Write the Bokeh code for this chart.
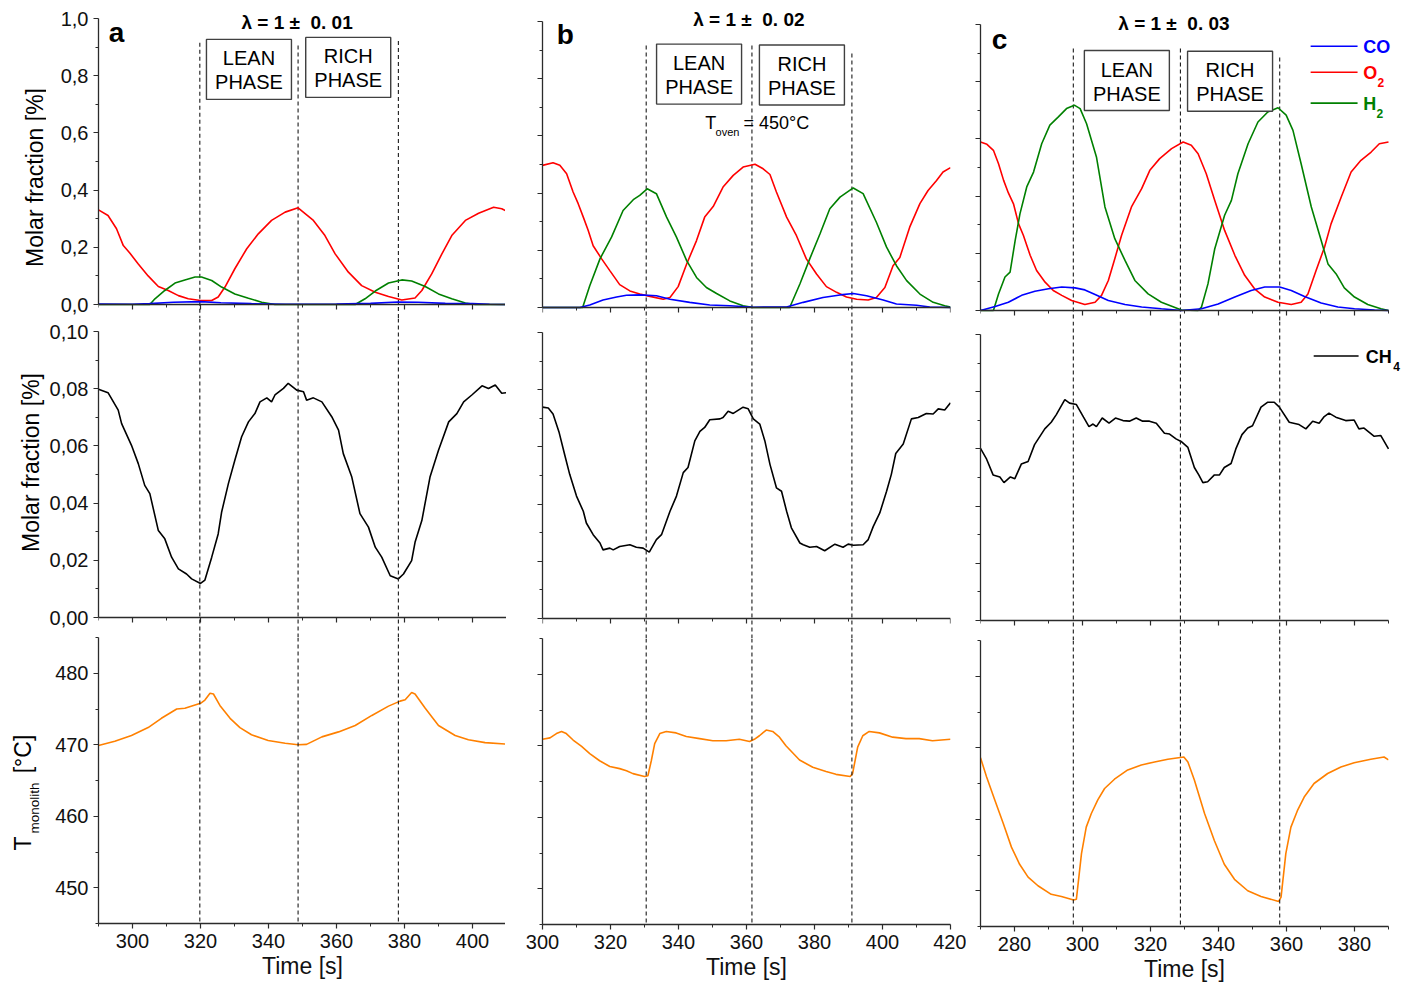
import math
from bokeh.plotting import figure
from bokeh.models import Range1d, FixedTicker, Label, Span, CustomJSTickFormatter
from bokeh.layouts import row, column
from bokeh.embed import file_html
from bokeh.resources import INLINE

# ---------------- data ----------------
# panel a  (lambda = 1 +/- 0.01)
A_O2_T = [290.0, 292.8, 295.3, 297.3, 299.2, 301.7, 304.6, 307.6, 310.5, 313.5, 316.4, 320.0, 323.3, 325.2, 327.2,
          330.1, 333.6, 337.0, 340.9, 344.9, 348.7, 353.2, 356.6, 359.6, 363.5, 367.4, 371.4, 375.3, 379.2, 383.1,
          385.1, 388.0, 391.0, 393.9, 397.9, 401.8, 406.2, 408.6, 410.0]
A_O2 = [0.331, 0.311, 0.265, 0.206, 0.180, 0.142, 0.100, 0.063, 0.049, 0.031, 0.020, 0.014, 0.014, 0.026, 0.061,
        0.125, 0.195, 0.247, 0.294, 0.323, 0.338, 0.294, 0.241, 0.177, 0.113, 0.066, 0.043, 0.028, 0.016, 0.023,
        0.049, 0.107, 0.177, 0.241, 0.294, 0.319, 0.340, 0.335, 0.326]
A_H2_T = [290.0, 305.1, 306.6, 309.5, 312.5, 315.4, 318.4, 320.3, 323.3, 326.2, 330.1, 334.1, 338.0, 341.9, 365.5,
          368.4, 371.4, 375.3, 379.2, 382.1, 386.1, 390.0, 393.9, 397.9, 400.8, 410.0]
A_H2 = [0.0, 0.0, 0.020, 0.049, 0.075, 0.086, 0.096, 0.096, 0.084, 0.061, 0.037, 0.022, 0.008, 0.0, 0.0,
        0.020, 0.047, 0.075, 0.086, 0.082, 0.063, 0.037, 0.020, 0.005, 0.0, 0.0]
A_CO_T = [290, 300, 305, 312, 320, 326, 335, 345, 360, 370, 378, 384, 392, 400, 405, 410]
A_CO = [0.002, 0.001, 0.003, 0.008, 0.010, 0.006, 0.003, 0.001, 0.002, 0.004, 0.009, 0.008, 0.004, 0.003, 0.001, 0.0]
A_CH4_T = [290.0, 292.8, 295.8, 296.8, 299.7, 301.7, 303.6, 305.1, 307.6, 309.5, 311.5, 313.5, 315.9, 317.4, 320.0,
           321.3, 323.3, 325.2, 326.2, 328.2, 330.1, 332.1, 334.1, 336.0, 337.5, 339.5, 340.9, 341.9, 344.4, 345.8,
           348.3, 350.3, 351.2, 353.2, 355.7, 358.6, 360.6, 362.0, 364.5, 366.9, 369.4, 371.4, 373.3, 375.8, 378.2,
           379.7, 382.1, 383.1, 385.1, 387.5, 390.0, 393.0, 395.4, 397.4, 399.8, 402.8, 404.7, 406.7, 408.6, 410.0]
A_CH4 = [0.0798, 0.0786, 0.0725, 0.0678, 0.0602, 0.0538, 0.0462, 0.0433, 0.0304, 0.0275, 0.0211, 0.0170, 0.0152,
         0.0135, 0.0119, 0.0131, 0.0211, 0.0292, 0.0368, 0.0468, 0.0550, 0.0632, 0.0684, 0.0713, 0.0754, 0.0768,
         0.0754, 0.0778, 0.0801, 0.0819, 0.0795, 0.0789, 0.0760, 0.0768, 0.0754, 0.0702, 0.0655, 0.0573, 0.0491,
         0.0363, 0.0316, 0.0246, 0.0211, 0.0146, 0.0135, 0.0152, 0.0199, 0.0263, 0.0339, 0.0491, 0.0585, 0.0684,
         0.0713, 0.0754, 0.0778, 0.0810, 0.0801, 0.0813, 0.0784, 0.0786]
A_T_T = [290.0, 294.8, 299.7, 304.6, 308.5, 313.0, 315.4, 320.0, 321.3, 322.8, 323.8, 325.7, 328.7, 331.6, 335.0,
         339.9, 344.9, 348.7, 351.2, 355.7, 360.6, 365.5, 370.4, 375.3, 378.7, 380.2, 382.1, 383.1, 386.1, 390.0,
         394.9, 398.8, 403.7, 410.0]
A_T = [469.9, 470.5, 471.3, 472.4, 473.7, 475.0, 475.1, 475.8, 476.25, 477.2, 477.1, 475.5, 473.7, 472.4, 471.4,
       470.6, 470.2, 470.0, 470.05, 471.1, 471.8, 472.7, 474.1, 475.4, 476.1, 476.3, 477.3, 477.1, 475.1, 472.7,
       471.3, 470.7, 470.3, 470.1]
A_SWITCH = [319.8, 348.7, 378.2]

# panel b  (lambda = 1 +/- 0.02)
B_O2_T = [300.0, 303.1, 305.1, 307.1, 309.0, 310.5, 312.0, 313.4, 314.9, 317.4, 319.8, 322.7, 325.7, 328.6, 331.6,
          335.5, 337.5, 339.9, 342.4, 345.3, 347.7, 350.2, 353.1, 356.1, 359.0, 362.5, 364.9, 366.9, 368.8, 371.8,
          374.7, 377.6, 380.6, 383.5, 386.5, 389.4, 392.4, 395.8, 398.2, 400.7, 403.1, 405.1, 408.0, 411.0, 413.4,
          415.9, 417.8, 420.0]
B_O2 = [0.497, 0.506, 0.497, 0.468, 0.404, 0.363, 0.316, 0.271, 0.216, 0.170, 0.129, 0.080, 0.058, 0.047, 0.039,
        0.029, 0.035, 0.073, 0.152, 0.234, 0.316, 0.353, 0.421, 0.462, 0.491, 0.501, 0.485, 0.465, 0.404, 0.316,
        0.251, 0.170, 0.117, 0.073, 0.053, 0.037, 0.029, 0.026, 0.035, 0.070, 0.146, 0.175, 0.281, 0.363, 0.409,
        0.444, 0.474, 0.489]
B_H2_T = [300.0, 311.8, 313.9, 316.9, 320.3, 323.7, 326.7, 328.6, 330.8, 333.5, 336.5, 339.4, 342.4, 345.3, 348.2,
          351.2, 355.1, 359.0, 362.0, 372.7, 375.7, 378.6, 381.6, 384.5, 387.5, 391.4, 394.3, 398.2, 401.2, 404.1,
          407.1, 411.0, 414.9, 418.3, 420.0]
B_H2 = [0.0, 0.0, 0.076, 0.170, 0.246, 0.339, 0.377, 0.392, 0.415, 0.398, 0.316, 0.246, 0.164, 0.105, 0.070,
        0.049, 0.023, 0.006, 0.0, 0.0, 0.082, 0.170, 0.257, 0.345, 0.386, 0.418, 0.398, 0.298, 0.211, 0.146,
        0.094, 0.047, 0.018, 0.006, 0.002]
B_CO_T = [300.0, 311.0, 313.9, 317.8, 321.8, 324.7, 328.6, 333.5, 337.5, 343.3, 349.2, 355.1, 362.0, 371.8, 376.7,
          382.5, 387.5, 391.4, 395.3, 400.2, 404.1, 410.0, 413.9, 420.0]
B_CO = [0.0, 0.0, 0.009, 0.026, 0.037, 0.043, 0.044, 0.041, 0.029, 0.018, 0.009, 0.006, 0.001, 0.002, 0.018,
        0.035, 0.044, 0.049, 0.041, 0.026, 0.012, 0.008, 0.002, 0.0]
B_CH4_T = [300.0, 301.7, 303.1, 304.9, 306.6, 308.0, 310.0, 312.0, 312.9, 314.9, 316.9, 317.8, 319.8, 320.8, 322.7,
           325.7, 327.6, 329.6, 331.4, 333.5, 335.0, 337.5, 339.4, 341.4, 342.8, 344.8, 346.3, 347.7, 349.2, 352.2,
           353.1, 354.6, 356.1, 359.0, 360.5, 362.0, 363.9, 365.4, 366.9, 368.8, 370.3, 371.8, 373.2, 375.7, 376.7,
           378.6, 380.6, 383.0, 386.0, 388.4, 389.9, 391.4, 394.3, 395.8, 397.3, 399.2, 401.2, 402.6, 403.9, 406.1,
           408.5, 410.5, 412.9, 414.9, 416.4, 418.3, 420.0]
B_CH4 = [0.0739, 0.0736, 0.0715, 0.0650, 0.0569, 0.0504, 0.0428, 0.0375, 0.0334, 0.0293, 0.0264, 0.0240, 0.0246,
         0.0240, 0.0252, 0.0258, 0.0249, 0.0246, 0.0232, 0.0276, 0.0293, 0.0375, 0.0428, 0.0510, 0.0528, 0.0621,
         0.0654, 0.0668, 0.0695, 0.0698, 0.0703, 0.0725, 0.0717, 0.0739, 0.0733, 0.0698, 0.0680, 0.0621, 0.0539,
         0.0457, 0.0445, 0.0375, 0.0317, 0.0264, 0.0258, 0.0249, 0.0252, 0.0237, 0.0260, 0.0249, 0.0260, 0.0256,
         0.0258, 0.0276, 0.0322, 0.0369, 0.0445, 0.0504, 0.0577, 0.0610, 0.0698, 0.0703, 0.0717, 0.0715, 0.0733,
         0.0729, 0.0754]
B_T_T = [300.0, 302.2, 304.1, 305.6, 307.0, 309.0, 311.5, 313.9, 316.8, 319.8, 322.7, 324.7, 326.6, 330.0, 331.0,
         332.0, 333.0, 334.5, 336.4, 339.3, 342.3, 346.2, 350.1, 354.0, 357.9, 360.9, 362.3, 363.8, 365.8, 367.7,
         369.7, 371.6, 375.6, 379.5, 383.4, 386.3, 390.5, 391.2, 392.7, 394.2, 396.1, 399.1, 403.0, 406.9, 410.8,
         414.7, 420.0]
B_T = [470.9, 471.1, 471.7, 472.0, 471.7, 470.8, 469.9, 468.9, 467.9, 467.1, 466.8, 466.5, 466.1, 465.7, 465.8,
       467.9, 470.3, 471.7, 472.0, 471.8, 471.3, 471.0, 470.7, 470.7, 470.9, 470.6, 470.9, 471.4, 472.2, 472.0,
       471.2, 470.0, 468.0, 467.0, 466.4, 466.0, 465.7, 466.1, 469.8, 471.4, 472.0, 471.8, 471.2, 471.0, 471.0,
       470.7, 470.9]
B_SWITCH = [330.5, 361.6, 391.0]

# panel c  (lambda = 1 +/- 0.03)
C_O2_T = [270.0, 271.9, 273.8, 275.3, 276.8, 278.2, 279.7, 281.2, 282.6, 284.6, 286.5, 289.0, 291.4, 293.9, 296.8,
          300.7, 303.7, 305.6, 307.6, 309.5, 311.5, 314.4, 317.4, 319.8, 322.7, 326.2, 329.6, 332.0, 334.0, 336.4,
          338.9, 341.8, 344.8, 347.7, 350.6, 353.6, 357.5, 361.4, 364.3, 366.3, 368.7, 371.2, 373.1, 376.1, 379.0,
          381.9, 384.9, 387.3, 390.0]
C_O2 = [0.589, 0.581, 0.560, 0.513, 0.455, 0.411, 0.373, 0.303, 0.263, 0.193, 0.140, 0.099, 0.070, 0.053, 0.035,
        0.021, 0.029, 0.053, 0.105, 0.181, 0.263, 0.362, 0.426, 0.490, 0.531, 0.566, 0.589, 0.578, 0.548, 0.478,
        0.385, 0.280, 0.193, 0.123, 0.076, 0.047, 0.029, 0.021, 0.029, 0.058, 0.140, 0.222, 0.303, 0.397, 0.484,
        0.525, 0.554, 0.583, 0.589]
C_H2_T = [270.0, 273.8, 275.3, 277.2, 278.7, 280.2, 281.6, 283.6, 285.6, 288.0, 290.4, 292.9, 295.3, 297.6, 299.3,
          301.2, 304.1, 306.6, 309.5, 312.5, 315.4, 319.3, 323.2, 329.1, 334.0, 335.0, 336.9, 338.9, 341.8, 343.8,
          345.7, 348.7, 351.6, 354.5, 357.5, 359.9, 361.9, 364.3, 367.3, 370.2, 372.2, 374.6, 377.0, 380.0, 383.9,
          387.8, 390.0]
C_H2 = [0.0, 0.0, 0.058, 0.117, 0.134, 0.245, 0.338, 0.432, 0.484, 0.583, 0.648, 0.677, 0.706, 0.718, 0.706,
        0.653, 0.537, 0.362, 0.251, 0.175, 0.105, 0.058, 0.029, 0.002, 0.0, 0.012, 0.093, 0.216, 0.333, 0.385,
        0.478, 0.583, 0.659, 0.694, 0.709, 0.683, 0.630, 0.513, 0.362, 0.245, 0.163, 0.128, 0.079, 0.047, 0.021,
        0.006, 0.0]
C_CO_T = [270.0, 274.3, 278.2, 282.1, 286.0, 290.0, 293.9, 297.8, 300.7, 303.7, 307.6, 312.5, 317.4, 323.2, 329.1,
          335.0, 339.9, 344.8, 349.6, 353.6, 358.0, 361.4, 365.3, 370.2, 375.1, 380.0, 385.9, 390.0]
C_CO = [0.0, 0.014, 0.029, 0.053, 0.067, 0.076, 0.082, 0.079, 0.072, 0.056, 0.035, 0.021, 0.012, 0.006, 0.0,
        0.006, 0.023, 0.047, 0.070, 0.082, 0.082, 0.070, 0.049, 0.026, 0.012, 0.006, 0.002, 0.0]
C_CH4_T = [270.0, 271.8, 273.7, 275.7, 276.9, 278.8, 280.1, 282.0, 284.0, 285.9, 288.9, 290.8, 292.3, 294.8, 296.2,
           298.2, 300.3, 301.9, 303.1, 304.1, 305.8, 307.8, 309.7, 311.9, 313.8, 315.8, 317.7, 319.7, 321.7, 324.1,
           325.6, 327.5, 329.0, 331.0, 332.9, 334.2, 335.4, 336.8, 338.8, 340.3, 341.7, 343.7, 345.1, 346.9, 348.6,
           350.0, 352.5, 354.4, 356.4, 357.9, 360.8, 363.7, 365.7, 367.7, 369.6, 371.1, 372.5, 374.5, 377.4, 379.9,
           381.3, 382.8, 385.8, 387.7, 390.0]
C_CH4 = [0.0602, 0.0564, 0.0509, 0.0502, 0.0482, 0.0502, 0.0496, 0.0547, 0.0556, 0.0615, 0.0670, 0.0693, 0.0720,
         0.0772, 0.0760, 0.0755, 0.0711, 0.0678, 0.0687, 0.0678, 0.0708, 0.0690, 0.0708, 0.0699, 0.0697, 0.0708,
         0.0697, 0.0697, 0.0690, 0.0655, 0.0652, 0.0635, 0.0626, 0.0605, 0.0535, 0.0509, 0.0482, 0.0485, 0.0509,
         0.0509, 0.0535, 0.0549, 0.0600, 0.0650, 0.0673, 0.0681, 0.0746, 0.0763, 0.0763, 0.0746, 0.0693, 0.0685,
         0.0670, 0.0697, 0.0690, 0.0713, 0.0725, 0.0711, 0.0699, 0.0701, 0.0670, 0.0673, 0.0644, 0.0647, 0.0600]
C_T_T = [270.0, 271.8, 274.2, 276.7, 279.1, 281.5, 284.0, 286.9, 290.8, 293.8, 297.4, 298.2, 299.7, 301.1, 302.6,
         304.5, 306.5, 309.4, 313.3, 317.3, 321.2, 325.1, 329.8, 331.0, 332.9, 335.9, 338.8, 341.7, 344.7, 348.6,
         352.5, 357.7, 358.4, 359.8, 361.3, 363.2, 365.2, 368.1, 372.1, 376.0, 379.9, 384.8, 388.7, 390.0]
C_T = [468.6, 465.9, 462.7, 459.4, 456.1, 453.7, 451.9, 450.7, 449.5, 449.2, 448.7, 448.8, 455.2, 458.9, 460.8,
       462.7, 464.3, 465.6, 466.9, 467.6, 468.0, 468.4, 468.7, 468.0, 465.5, 460.8, 457.0, 453.7, 451.6, 450.0,
       449.2, 448.5, 449.1, 455.2, 458.9, 461.2, 463.1, 465.0, 466.4, 467.3, 467.9, 468.4, 468.7, 468.3]
C_SWITCH = [297.3, 328.8, 358.0]

# axis ticks
TOP_MAJ = [0, 0.2, 0.4, 0.6, 0.8, 1.0]
TOP_MIN = [0.1, 0.3, 0.5, 0.7, 0.9]
MID_MAJ = [0, 0.02, 0.04, 0.06, 0.08, 0.10]
MID_MIN = [0.01, 0.03, 0.05, 0.07, 0.09]
BOT_MAJ = [450, 460, 470, 480]
BOT_MIN = [445, 455, 465, 475, 485]

NB = "\u00a0"
PANELS = {
    "a": dict(xr=(290, 410), xmaj=[300, 320, 340, 360, 380, 400], xmin=[290, 310, 330, 350, 370, 390, 410],
              co=(A_CO_T, A_CO), o2=(A_O2_T, A_O2), h2=(A_H2_T, A_H2), ch4=(A_CH4_T, A_CH4), temp=(A_T_T, A_T),
              switch=A_SWITCH, dash_top=[0.915, 0.906, 0.921], box_y=[0.822, 0.829],
              letter=("a", 293.0, 0.917), title=("λ = 1 ±" + NB + NB + "0." + NB + "01", 348.4, 0.964)),
    "b": dict(xr=(300, 420), xmaj=[300, 320, 340, 360, 380, 400, 420], xmin=[310, 330, 350, 370, 390, 410],
              co=(B_CO_T, B_CO), o2=(B_O2_T, B_O2), h2=(B_H2_T, B_H2), ch4=(B_CH4_T, B_CH4), temp=(B_T_T, B_T),
              switch=B_SWITCH, dash_top=[0.916, 0.916, 0.888], box_y=[0.816, 0.813],
              letter=("b", 304.2, 0.922), title=("λ = 1 ±" + NB + NB + "0." + NB + "02", 360.7, 0.983)),
    "c": dict(xr=(270, 390), xmaj=[280, 300, 320, 340, 360, 380], xmin=[270, 290, 310, 330, 350, 370, 390],
              co=(C_CO_T, C_CO), o2=(C_O2_T, C_O2), h2=(C_H2_T, C_H2), ch4=(C_CH4_T, C_CH4), temp=(C_T_T, C_T),
              switch=C_SWITCH, dash_top=[0.916, 0.916, 0.885], box_y=[0.804, 0.8016],
              letter=("c", 273.3, 0.915), title=("λ = 1 ±" + NB + NB + "0." + NB + "03", 326.9, 0.981)),
}

# ---------------- styling / layout ----------------
FONT = "Liberation Sans"
AX = "#2b2b2b"
COL_CO, COL_O2, COL_H2, COL_CH4, COL_T = "#0000ff", "#ff0000", "#008000", "#000000", "#ff8000"
PAGE_TOP = 0
PANEL_H = 286
FRAME_W = 408
BOTTOM_BORDER = 56
LABEL_W = 46
UP = 13   # part of the upper gap that belongs to the middle panel's frame
MID_EM = 0.3465   # distance baseline -> em-middle of Liberation Sans, in em
LAYOUT = {
    "a": dict(top=18, g1=27, g2=20, lb=51, rb=0, ext=0),
    "b": dict(top=21, g1=25, g2=20, lb=36, rb=16, ext=0),
    "c": dict(top=24, g1=24, g2=20, lb=14, rb=13, ext=13),
}
DASH = dict(line_dash="4 3", line_color="#1a1a1a", line_width=1.1)


def fmt_hide():
    return CustomJSTickFormatter(code="return '';")


def fmt_comma(d):
    return CustomJSTickFormatter(code="return tick.toFixed(%d).replace('.', ',');" % d)


def base_fig(frame_w, frame_h, xr, yr, lb, rb, bb):
    p = figure(frame_width=frame_w, frame_height=frame_h, x_range=Range1d(*xr), y_range=Range1d(*yr),
               toolbar_location=None, output_backend="svg",
               min_border_left=lb, min_border_right=rb, min_border_top=0, min_border_bottom=bb)
    p.outline_line_color = None
    p.xgrid.visible = False
    p.ygrid.visible = False
    p.background_fill_color = "white"
    p.border_fill_color = "white"
    return p


def style_axis(ax, majors, minors, fmt=None, size="20px", standoff=5):
    ax.ticker = FixedTicker(ticks=majors, minor_ticks=minors)
    if fmt is not None:
        ax.formatter = fmt
    ax.axis_line_color = AX
    ax.axis_line_width = 1.3
    ax.major_tick_line_color = AX
    ax.major_tick_line_width = 1.2
    ax.minor_tick_line_color = AX
    ax.minor_tick_line_width = 1.0
    ax.major_tick_in = 0
    ax.major_tick_out = 5
    ax.minor_tick_in = 0
    ax.minor_tick_out = 3
    ax.major_label_text_font = FONT
    ax.major_label_text_font_size = size
    ax.major_label_text_color = "#111111"
    ax.major_label_standoff = standoff


def label(p, text, x, y, size, bold=False, color="#000000", align="left", upp=None, angle=0.0):
    """Place text; y is the baseline (converted to the em middle using upp = data units per px),
    or, when upp is None, y is already the text middle."""
    if upp is not None:
        y = y + MID_EM * size * upp
    p.add_layout(Label(x=x, y=y, x_units="data", y_units="data", text=text, text_font=FONT,
                       text_font_size="%spx" % size, text_font_style="bold" if bold else "normal",
                       text_color=color, text_align=align, text_baseline="middle", angle=angle))


# ---- narrow strip that carries the rotated y-axis titles of the left column ----
STRIP_H = 975
strip = figure(frame_width=LABEL_W, frame_height=STRIP_H, x_range=Range1d(0, LABEL_W), y_range=Range1d(STRIP_H, 0),
               x_axis_type=None, y_axis_type=None, toolbar_location=None, output_backend="svg", min_border=0)
strip.outline_line_color = None
strip.grid.visible = False
ROT = math.pi / 2
label(strip, "Molar fraction [%]", 34, 177, 23, align="center", angle=ROT)
label(strip, "Molar fraction [%]", 30, 462, 23, align="center", angle=ROT)
label(strip, "T", 22, 843, 23, align="center", angle=ROT)
label(strip, "monolith", 34, 807.5, 13.5, align="center", angle=ROT)
label(strip, "[°C]", 22, 753.5, 23, align="center", angle=ROT)

TOP_UPP = 1.0 / PANEL_H
MID_UPP = 0.1 / PANEL_H

columns = [strip]
for key in "abc":
    L = LAYOUT[key]
    P = PANELS[key]
    first = key == "a"
    above = L["top"] - PAGE_TOP
    x0, x1 = P["xr"]
    xr_ext = (x0, x1 + L["ext"] * (x1 - x0) / FRAME_W)
    rb_ext = L["rb"] - L["ext"]
    g1_top = L["g1"] - UP

    # ---------- top: CO, O2, H2 ----------
    ys, ye = -g1_top / PANEL_H, 1.0 + above / PANEL_H
    pt = base_fig(FRAME_W + L["ext"], above + PANEL_H + g1_top, xr_ext, (ys, ye), L["lb"], rb_ext, 0)
    pt.xaxis.fixed_location = 0
    pt.xaxis.bounds = (x0, x1)
    style_axis(pt.xaxis[0], P["xmaj"], P["xmin"], fmt_hide(), standoff=0)
    style_axis(pt.yaxis[0], TOP_MAJ, TOP_MIN, fmt_comma(1) if first else fmt_hide(), standoff=5 if first else 0)
    pt.yaxis.bounds = (0, 1.0)
    pt.segment(x0=P["switch"], x1=P["switch"], y0=P["dash_top"], y1=[ys] * 3, **DASH)
    pt.line(*P["o2"], line_color=COL_O2, line_width=1.6)
    pt.line(*P["h2"], line_color=COL_H2, line_width=1.6)
    pt.line(*P["co"], line_color=COL_CO, line_width=1.6)
    sw = P["switch"]
    mids = [(sw[0] + sw[1]) / 2, (sw[1] + sw[2]) / 2]
    pt.rect(x=mids, y=P["box_y"], width=85, height=60, width_units="screen", height_units="screen",
            fill_color="white", line_color="#404040", line_width=1.4)
    for mx, by, word in zip(mids, P["box_y"], ["LEAN", "RICH"]):
        label(pt, word, mx, by + 4 * TOP_UPP, 20, align="center", upp=TOP_UPP)
        label(pt, "PHASE", mx, by - 20 * TOP_UPP, 20, align="center", upp=TOP_UPP)
    ltr, lx, ly = P["letter"]
    label(pt, ltr, lx, ly, 28, bold=True, upp=TOP_UPP)
    ttl, tx, ty = P["title"]
    label(pt, ttl, tx, ty, 19, bold=True, align="center", upp=TOP_UPP)
    if key == "b":
        label(pt, "T", 347.9, 0.622, 18, upp=TOP_UPP)
        label(pt, "oven", 350.9, 0.601, 11, upp=TOP_UPP)
        label(pt, "= 450°C", 359.1, 0.622, 18, upp=TOP_UPP)
    if key == "c":
        ly_ = [0.924, 0.833, 0.725]
        pt.segment(x0=[367.1] * 3, x1=[380.9] * 3, y0=ly_, y1=ly_,
                   line_color=[COL_CO, COL_O2, COL_H2], line_width=1.6)
        label(pt, "CO", 382.6, 0.900, 18, bold=True, color=COL_CO, upp=TOP_UPP)
        label(pt, "O", 382.6, 0.807, 18, bold=True, color=COL_O2, upp=TOP_UPP)
        label(pt, "2", 386.8, 0.781, 12, bold=True, color=COL_O2, upp=TOP_UPP)
        label(pt, "H", 382.6, 0.699, 18, bold=True, color=COL_H2, upp=TOP_UPP)
        label(pt, "2", 386.5, 0.676, 12, bold=True, color=COL_H2, upp=TOP_UPP)

    # ---------- middle: CH4 ----------
    ms, me = -L["g2"] * MID_UPP, 0.10 + UP * MID_UPP
    pm = base_fig(FRAME_W + L["ext"], UP + PANEL_H + L["g2"], xr_ext, (ms, me), L["lb"], rb_ext, 0)
    pm.xaxis.fixed_location = 0
    pm.xaxis.bounds = (x0, x1)
    style_axis(pm.xaxis[0], P["xmaj"], P["xmin"], fmt_hide(), standoff=0)
    style_axis(pm.yaxis[0], MID_MAJ, MID_MIN, fmt_comma(2) if first else fmt_hide(), standoff=5 if first else 0)
    pm.yaxis.bounds = (0, 0.10)
    for s in P["switch"]:
        pm.add_layout(Span(location=s, dimension="height", **DASH))
    pm.line(*P["ch4"], line_color=COL_CH4, line_width=1.6)
    if key == "c":
        pm.segment(x0=[368.0], x1=[381.2], y0=[0.0925], y1=[0.0925], line_color=COL_CH4, line_width=1.6)
        label(pm, "CH", 383.3, 0.0898, 18, bold=True, upp=MID_UPP)
        label(pm, "4", 391.4, 0.0872, 12, bold=True, upp=MID_UPP)

    # ---------- bottom: monolith temperature ----------
    pb = base_fig(FRAME_W, PANEL_H, P["xr"], (445, 485), L["lb"], L["rb"], BOTTOM_BORDER)
    style_axis(pb.xaxis[0], P["xmaj"], P["xmin"], None, standoff=5)
    style_axis(pb.yaxis[0], BOT_MAJ, BOT_MIN, None if first else fmt_hide(), standoff=5 if first else 0)
    pb.xaxis.axis_label = "Time [s]"
    pb.xaxis.axis_label_text_font = FONT
    pb.xaxis.axis_label_text_font_size = "23px"
    pb.xaxis.axis_label_text_font_style = "normal"
    pb.xaxis.axis_label_text_color = "#111111"
    pb.xaxis.axis_label_standoff = 2
    for s in P["switch"]:
        pb.add_layout(Span(location=s, dimension="height", **DASH))
    pb.line(*P["temp"], line_color=COL_T, line_width=1.6)

    columns.append(column(pt, pm, pb, spacing=0))

layout = row(*columns, spacing=0)
open("out.html", "w").write(file_html(layout, INLINE, "Molar fraction and monolith temperature"))
